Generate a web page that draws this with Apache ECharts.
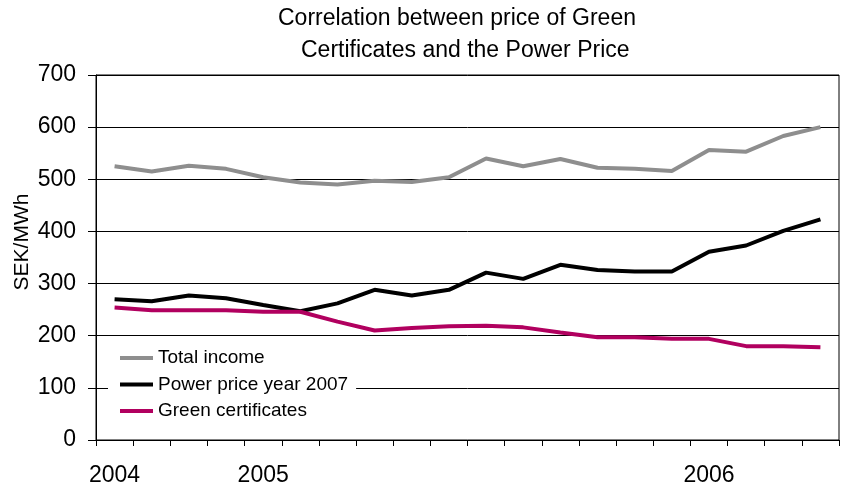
<!DOCTYPE html>
<html>
<head>
<meta charset="utf-8">
<script src="https://cdn.jsdelivr.net/npm/echarts@6/dist/echarts.min.js"></script>
<style>
  html, body { margin: 0; padding: 0; background: #fff; }
  #chart { width: 841px; height: 487px; }
</style>
</head>
<body>
<div id="chart"></div>
<script>
// one label every so often, the rest left blank (20 periods)
const periods = ["2004", "", "", "", "2005", "", "", "", "", "", "", "", "", "", "", "", "2006", "", "", ""];
const totalIncome = [525, 515, 526, 520, 504, 494, 490, 497, 495, 504, 540, 525, 539, 522, 520, 516, 556, 553, 583, 600];
const powerPrice = [270, 266, 277, 272, 259, 247, 262, 288, 277, 288, 321, 309, 336, 326, 323, 323, 361, 373, 401, 423];
const greenCerts = [254, 249, 249, 249, 246, 246, 227, 210, 215, 218, 219, 216, 206, 197, 197, 194, 194, 180, 180, 178];
const yTicks = [0, 100, 200, 300, 400, 500, 600, 700];

const font = "Liberation Sans";

const chart = echarts.init(document.getElementById("chart"));

chart.setOption({
  animation: false,
  backgroundColor: "#fff",
  title: [
    {
      text: "Correlation between price of Green",
      left: 278,
      top: 7,
      padding: 0,
      textStyle: { fontFamily: font, fontSize: 23, fontWeight: "normal", color: "#000" },
    },
    {
      text: "Certificates and the Power Price",
      left: 301,
      top: 39,
      padding: 0,
      textStyle: { fontFamily: font, fontSize: 23, fontWeight: "normal", color: "#000" },
    },
  ],
  grid: {
    left: 96,
    right: 2,
    top: 75,
    bottom: 47,
    show: true,
    borderColor: "#000",
    borderWidth: 1,
  },
  legend: {
    orient: "vertical",
    left: 108,
    top: 343,
    padding: [5, 8, 5, 12],
    backgroundColor: "#fff",
    icon: "rect",
    itemWidth: 33,
    itemHeight: 4,
    itemGap: 6.5,
    textStyle: { fontFamily: font, fontSize: 19, color: "#000", lineHeight: 20 },
    data: ["Total income", "Power price year 2007", "Green certificates"],
  },
  graphic: [
    {
      type: "text",
      x: 22,
      y: 242,
      rotation: Math.PI / 2,
      style: {
        text: "SEK/MWh",
        font: "21px " + font,
        fill: "#000",
        align: "center",
        verticalAlign: "middle",
      },
    },
  ],
  xAxis: {
    type: "category",
    data: periods,
    boundaryGap: true,
    axisLine: { lineStyle: { color: "#000", width: 1 } },
    axisTick: { show: true, interval: 0, length: 6, lineStyle: { color: "#000" } },
    axisLabel: { interval: 0, margin: 24, fontFamily: font, fontSize: 23, color: "#000" },
    splitLine: { show: false },
  },
  yAxis: {
    type: "value",
    min: yTicks[0],
    max: yTicks[yTicks.length - 1],
    interval: 100,
    axisLine: { show: true, lineStyle: { color: "#000", width: 1 } },
    axisTick: { show: true, length: 8, lineStyle: { color: "#000" } },
    axisLabel: { margin: 20, fontFamily: font, fontSize: 23, color: "#000" },
    splitLine: { show: true, lineStyle: { color: "#000", width: 1 } },
  },
  series: [
    {
      name: "Total income",
      type: "line",
      data: totalIncome,
      showSymbol: false,
      lineStyle: { color: "#8e8e8e", width: 4 },
      itemStyle: { color: "#8e8e8e" },
    },
    {
      name: "Power price year 2007",
      type: "line",
      data: powerPrice,
      showSymbol: false,
      lineStyle: { color: "#000", width: 4 },
      itemStyle: { color: "#000" },
    },
    {
      name: "Green certificates",
      type: "line",
      data: greenCerts,
      showSymbol: false,
      lineStyle: { color: "#b1005f", width: 4 },
      itemStyle: { color: "#b1005f" },
    },
  ],
});
</script>
</body>
</html>
